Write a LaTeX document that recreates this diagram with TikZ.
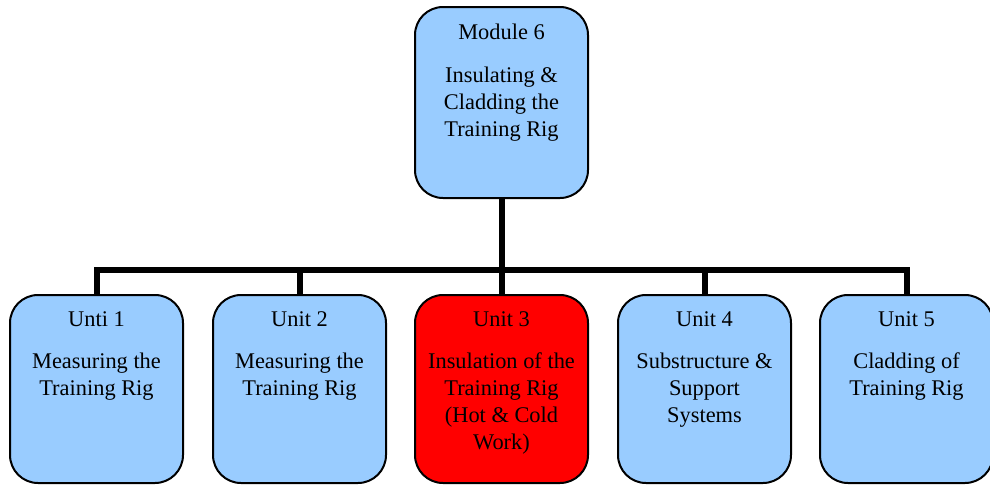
\documentclass[tikz,border=0pt]{standalone}
\usepackage{fontspec}
\setmainfont{Liberation Serif}
\definecolor{boxblue}{HTML}{99CCFF}
\definecolor{boxred}{HTML}{FF0000}
\begin{document}
\begin{tikzpicture}[x=0.75pt,y=-0.75pt,
  unitbox/.style={draw=black,line width=1.5pt,rounded corners=21pt,fill=boxblue,
    minimum width=129.75pt,minimum height=141pt,inner sep=0pt},
  topbox/.style={unitbox,minimum height=143.25pt},
  hotbox/.style={unitbox,fill=boxred},
  boxtext/.style={anchor=north,align=center,inner sep=0pt,yshift=-13pt,
    font=\fontsize{16.8}{20.25}\selectfont},
  conn/.style={line width=4.5pt,line join=miter}]
\useasboundingbox (0,0) rectangle (990,486);
\node[topbox] (m) at (501.5,102.5) {};
\node[unitbox] (u1) at (96.5,389) {};
\node[unitbox] (u2) at (299.5,389) {};
\node[hotbox]  (u3) at (501.5,389) {};
\node[unitbox] (u4) at (704.5,389) {};
\node[unitbox] (u5) at (906.5,389) {};
\coordinate (j) at (501.5,270);
\node[boxtext] (tm) at (m.north) {Module 6\\[12pt]Insulating \&\\Cladding the\\Training Rig};
\node[boxtext] (t1) at (u1.north) {Unti 1\\[11pt]Measuring the\\Training Rig};
\node[boxtext] (t2) at (u2.north) {Unit 2\\[11pt]Measuring the\\Training Rig};
\node[boxtext] (t3) at (u3.north) {Unit 3\\[11pt]Insulation of the\\Training Rig\\(Hot \& Cold\\Work)};
\node[boxtext] (t4) at (u4.north) {Unit 4\\[11pt]Substructure \&\\Support\\Systems};
\node[boxtext] (t5) at (u5.north) {Unit 5\\[11pt]Cladding of\\Training Rig};
\draw[conn] (m.south) -- (j);
\draw[conn] (j) -| (u1.north);
\draw[conn] (j) -| (u2.north);
\draw[conn] (j) -- (u3.north);
\draw[conn] (j) -| (u4.north);
\draw[conn] (j) -| (u5.north);
\end{tikzpicture}
\end{document}
